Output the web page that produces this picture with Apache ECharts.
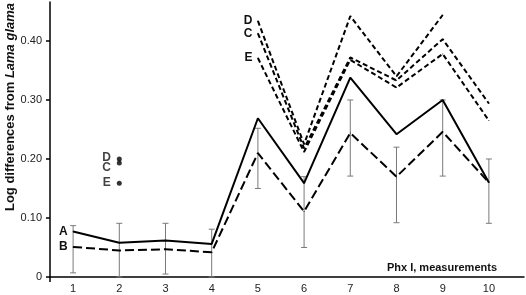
<!DOCTYPE html>
<html>
<head>
<meta charset="utf-8">
<script src="https://cdn.jsdelivr.net/npm/echarts@6/dist/echarts.min.js"></script>
<style>html,body{margin:0;padding:0;background:#fff}#c{width:526px;height:295px}</style>
</head>
<body>
<div id="c"></div>
<script>
const xCats = [1, 2, 3, 4, 5, 6, 7, 8, 9, 10];
const seriesA = [0.077, 0.058, 0.062, 0.056, 0.269, 0.159, 0.338, 0.242, 0.300, 0.160];
const seriesB = [0.051, 0.045, 0.047, 0.042, 0.210, 0.111, 0.244, 0.170, 0.246, 0.160];
const errLow  = [0.007, 0.000, 0.005, 0.000, 0.150, 0.050, 0.171, 0.092, 0.171, 0.091];
const errHigh = [0.087, 0.091, 0.091, 0.081, 0.252, 0.170, 0.300, 0.220, 0.300, 0.200];
const seriesD = [null, null, null, null, 0.434, 0.225, 0.442, 0.340, 0.444, null];
const seriesC = [null, null, null, null, 0.413, 0.218, 0.372, 0.333, 0.403, 0.294];
const seriesE = [null, null, null, null, 0.371, 0.212, 0.368, 0.321, 0.378, 0.265];
const pointsX = 2;
const pointNames = ['D', 'C', 'E'];
const pointValues = [0.200, 0.193, 0.159];
const yTicks = [0, 0.1, 0.2, 0.3, 0.4];

const chart = echarts.init(document.getElementById('c'), null, {renderer: 'canvas'});
const FONT = 'Liberation Sans, Arial, sans-serif';
const labelStyle = {show: true, position: 'left', distance: 5, color: '#111', fontWeight: 'bold', fontSize: 12, fontFamily: FONT};

function lineSeries(name, arr, dash) {
  const data = xCats.map((x, i) => ({value: [x, arr[i]], label: {show: false}}));
  const first = arr.findIndex(v => v != null);
  data[first].label = Object.assign({}, labelStyle, {formatter: name});
  return {
    type: 'line', name, data, showSymbol: true, symbol: 'circle', symbolSize: 1, connectNulls: false, z: 3,
    itemStyle: {color: '#000'},
    lineStyle: {color: '#000', width: 2, type: dash, cap: 'butt'},
    emphasis: {disabled: true}, silent: true, animation: false
  };
}

const option = {
  animation: false,
  grid: {left: 50, right: 2, top: 2, bottom: 18},
  xAxis: {
    type: 'value', min: 0.5, max: 10.76,
    axisLine: {show: true, lineStyle: {color: '#000', width: 1.5}},
    splitLine: {show: false},
    axisTick: {show: true, customValues: [0.5], length: 5, lineStyle: {color: '#000', width: 1.5}},
    axisLabel: {customValues: xCats, color: '#222', fontSize: 11, fontFamily: FONT, margin: 6, formatter: v => String(v)}
  },
  yAxis: {
    type: 'value', min: 0, max: 0.466,
    axisLine: {show: true, lineStyle: {color: '#000', width: 1.5}},
    splitLine: {show: false},
    axisTick: {show: true, customValues: yTicks, length: 4, lineStyle: {color: '#000', width: 1.5}},
    axisLabel: {customValues: yTicks, color: '#222', fontSize: 11, fontFamily: FONT, margin: 8,
      formatter: v => v === 0 ? '0' : v.toFixed(2)}
  },
  graphic: [
    {type: 'text', x: 10, y: 107, rotation: Math.PI / 2,
      style: {text: '{b|Log differences from }{i|Lama glama}', align: 'center', verticalAlign: 'middle',
        rich: {b: {fontWeight: 'bold', fontSize: 13, fontFamily: FONT, fill: '#111'},
               i: {fontWeight: 'bold', fontStyle: 'italic', fontSize: 13, fontFamily: FONT, fill: '#111'}}}},
    {type: 'text', x: 497, y: 268,
      style: {text: 'Phx I, measurements', align: 'right', verticalAlign: 'middle', fontWeight: 'bold', fontSize: 11, fontFamily: FONT, fill: '#111'}}
  ],
  series: [
    {
      type: 'custom', z: 1, silent: true,
      data: xCats.map((x, i) => [x, errLow[i], errHigh[i]]),
      renderItem: function (params, api) {
        const lo = api.coord([api.value(0), api.value(1)]);
        const hi = api.coord([api.value(0), api.value(2)]);
        const w = 3;
        const st = {stroke: '#7a7a7a', lineWidth: 1};
        return {type: 'group', children: [
          {type: 'line', shape: {x1: hi[0], y1: hi[1], x2: lo[0], y2: lo[1]}, style: st},
          {type: 'line', shape: {x1: hi[0] - w, y1: hi[1], x2: hi[0] + w, y2: hi[1]}, style: st},
          {type: 'line', shape: {x1: lo[0] - w, y1: lo[1], x2: lo[0] + w, y2: lo[1]}, style: st}
        ]};
      }
    },
    lineSeries('A', seriesA, 'solid'),
    lineSeries('B', seriesB, [9, 4]),
    lineSeries('D', seriesD, [5, 3]),
    lineSeries('C', seriesC, [5, 3]),
    lineSeries('E', seriesE, [5, 3]),
    {
      type: 'scatter', z: 4, silent: true, symbol: 'circle', symbolSize: 5,
      itemStyle: {color: '#000'},
      data: pointValues.map((v, i) => ({value: [pointsX, v],
        label: Object.assign({}, labelStyle, {formatter: pointNames[i], offset: [-1, [-1, 5, 0][i]]})}))
    }
  ]
};
chart.setOption(option);
</script>
</body>
</html>
